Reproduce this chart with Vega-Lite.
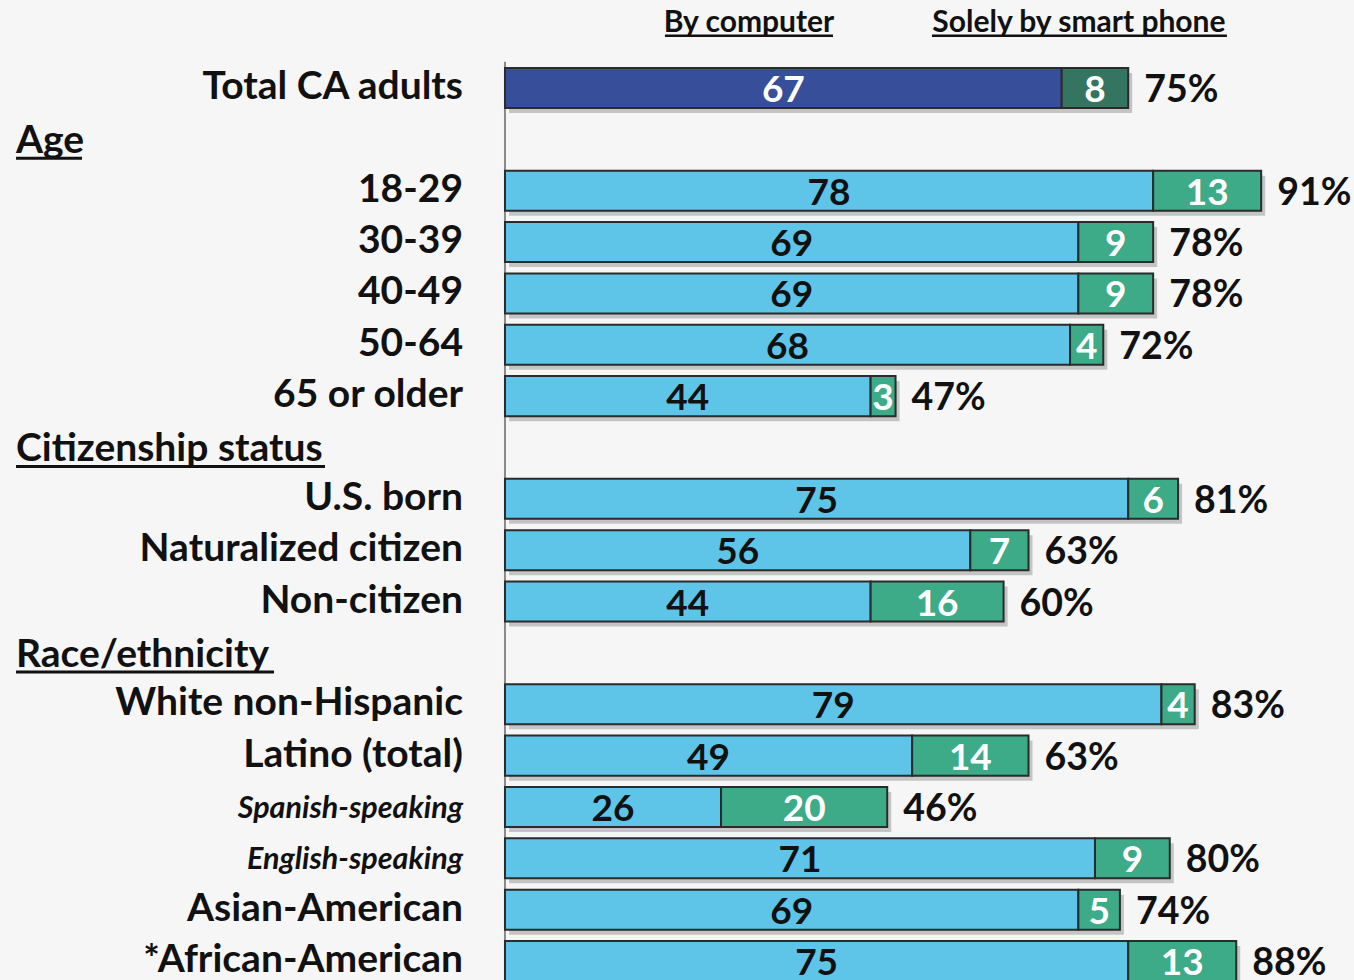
{
  "$schema": "https://vega.github.io/schema/vega-lite/v6.json",
  "width": 1354,
  "height": 980,
  "autosize": {"type": "none"},
  "padding": 0,
  "background": "#f6f6f6",
  "config": {"view": {"stroke": null}, "font": "Lato"},
  "datasets": {
    "rows": [
      {"row": "Total CA adults", "group": "total", "level": "main", "computer": 67, "phone": 8, "total": 75, "pct": "75%"},
      {"row": "18-29", "group": "age", "level": "main", "computer": 78, "phone": 13, "total": 91, "pct": "91%"},
      {"row": "30-39", "group": "age", "level": "main", "computer": 69, "phone": 9, "total": 78, "pct": "78%"},
      {"row": "40-49", "group": "age", "level": "main", "computer": 69, "phone": 9, "total": 78, "pct": "78%"},
      {"row": "50-64", "group": "age", "level": "main", "computer": 68, "phone": 4, "total": 72, "pct": "72%"},
      {"row": "65 or older", "group": "age", "level": "main", "computer": 44, "phone": 3, "total": 47, "pct": "47%"},
      {"row": "U.S. born", "group": "citizenship", "level": "main", "computer": 75, "phone": 6, "total": 81, "pct": "81%"},
      {"row": "Naturalized citizen", "group": "citizenship", "level": "main", "computer": 56, "phone": 7, "total": 63, "pct": "63%"},
      {"row": "Non-citizen", "group": "citizenship", "level": "main", "computer": 44, "phone": 16, "total": 60, "pct": "60%"},
      {"row": "White non-Hispanic", "group": "race", "level": "main", "computer": 79, "phone": 4, "total": 83, "pct": "83%"},
      {"row": "Latino (total)", "group": "race", "level": "main", "computer": 49, "phone": 14, "total": 63, "pct": "63%"},
      {"row": "Spanish-speaking", "group": "race", "level": "sub", "computer": 26, "phone": 20, "total": 46, "pct": "46%"},
      {"row": "English-speaking", "group": "race", "level": "sub", "computer": 71, "phone": 9, "total": 80, "pct": "80%"},
      {"row": "Asian-American", "group": "race", "level": "main", "computer": 69, "phone": 5, "total": 74, "pct": "74%"},
      {"row": "*African-American", "group": "race", "level": "main", "computer": 75, "phone": 13, "total": 88, "pct": "88%"}
    ],
    "headers": [
      {"row": "Age"},
      {"row": "Citizenship status"},
      {"row": "Race/ethnicity"}
    ],
    "one": [{"k": 1}]
  },
  "data": {"name": "rows"},
  "encoding": {
    "y": {
      "field": "row",
      "type": "nominal",
      "axis": null,
      "scale": {
        "type": "band",
        "domain": ["_cols", "Total CA adults", "Age", "18-29", "30-39", "40-49", "50-64", "65 or older", "Citizenship status", "U.S. born", "Naturalized citizen", "Non-citizen", "Race/ethnicity", "White non-Hispanic", "Latino (total)", "Spanish-speaking", "English-speaking", "Asian-American", "*African-American"],
        "range": [10.95, 986.7],
        "paddingInner": 0.22,
        "paddingOuter": 0.11
      }
    }
  },
  "layer": [
    {
      "mark": {"type": "bar", "color": "#000000", "opacity": 0.2, "xOffset": 4, "yOffset": 5},
      "encoding": {
        "x": {"field": "total", "type": "quantitative", "axis": null, "scale": {"domain": [-60.77, 102.17], "nice": false, "zero": false}}
      }
    },
    {
      "data": {"name": "one"},
      "mark": {"type": "rule", "color": "#8a8a8a", "strokeWidth": 2, "yOffset": 25, "y2Offset": 25},
      "encoding": {
        "x": {"datum": 0, "type": "quantitative"},
        "y": {"datum": "_cols"},
        "y2": {"datum": "*African-American"}
      }
    },
    {
      "transform": [{"fold": ["computer", "phone"], "as": ["segment", "value"]}],
      "mark": {"type": "bar", "stroke": "#2b2b2b", "strokeWidth": 2},
      "encoding": {
        "x": {"field": "value", "type": "quantitative", "stack": "zero"},
        "order": {"field": "segment"},
        "color": {
          "field": "segment",
          "type": "nominal",
          "legend": null,
          "scale": {"domain": ["computer", "phone"], "range": ["#5EC4E8", "#3DAA88"]},
          "condition": [
            {"test": "datum.group === 'total' && datum.segment === 'computer'", "value": "#374E9A"},
            {"test": "datum.group === 'total'", "value": "#357460"}
          ]
        }
      }
    },
    {
      "transform": [{"fold": ["computer", "phone"], "as": ["segment", "value"]}],
      "mark": {"type": "text", "fontSize": 37, "fontWeight": "bold", "baseline": "alphabetic", "dy": 14, "align": "center"},
      "encoding": {
        "x": {"field": "value", "type": "quantitative", "stack": "zero", "bandPosition": 0.5},
        "detail": {"field": "segment"},
        "order": {"field": "segment"},
        "text": {"field": "value", "type": "quantitative"},
        "color": {
          "condition": {"test": "datum.group !== 'total' && datum.segment === 'computer'", "value": "#111111"},
          "value": "#ffffff"
        }
      }
    },
    {
      "mark": {"type": "text", "fontSize": 37.5, "fontWeight": "bold", "baseline": "alphabetic", "dy": 14, "align": "left", "dx": 16, "color": "#111111"},
      "encoding": {
        "x": {"field": "total", "type": "quantitative"},
        "text": {"field": "pct"}
      }
    },
    {
      "transform": [{"filter": "datum.level === 'main'"}],
      "mark": {"type": "text", "fontSize": 39, "fontWeight": "bold", "baseline": "alphabetic", "dy": 11, "align": "right", "color": "#111111"},
      "encoding": {
        "x": {"datum": -5.05, "type": "quantitative"},
        "text": {"field": "row"}
      }
    },
    {
      "transform": [{"filter": "datum.level === 'sub'"}],
      "mark": {"type": "text", "fontSize": 30.5, "fontWeight": "bold", "fontStyle": "italic", "baseline": "alphabetic", "dy": 11, "align": "right", "color": "#111111"},
      "encoding": {
        "x": {"datum": -5.05, "type": "quantitative"},
        "text": {"field": "row"}
      }
    },
    {
      "data": {"name": "headers"},
      "mark": {"type": "text", "fontSize": 39, "fontWeight": "bold", "baseline": "alphabetic", "dy": 14, "align": "left", "color": "#111111"},
      "encoding": {
        "x": {"datum": -58.84, "type": "quantitative"},
        "text": {"field": "row"}
      }
    },
    {
      "data": {"name": "one"},
      "mark": {"type": "rule", "color": "#111111", "strokeWidth": 3, "yOffset": 19},
      "encoding": {"x": {"datum": -58.84, "type": "quantitative"}, "x2": {"datum": -50.9}, "y": {"datum": "Age"}}
    },
    {
      "data": {"name": "one"},
      "mark": {"type": "rule", "color": "#111111", "strokeWidth": 3, "yOffset": 19},
      "encoding": {"x": {"datum": -58.84, "type": "quantitative"}, "x2": {"datum": -21.66}, "y": {"datum": "Citizenship status"}}
    },
    {
      "data": {"name": "one"},
      "mark": {"type": "rule", "color": "#111111", "strokeWidth": 3, "yOffset": 19},
      "encoding": {"x": {"datum": -58.84, "type": "quantitative"}, "x2": {"datum": -27.8}, "y": {"datum": "Race/ethnicity"}}
    },
    {
      "data": {"name": "one"},
      "mark": {"type": "text", "fontSize": 30, "fontWeight": "bold", "baseline": "alphabetic", "dy": -5, "align": "center", "color": "#111111", "text": "By computer"},
      "encoding": {"x": {"datum": 29.36, "type": "quantitative"}, "y": {"datum": "_cols"}}
    },
    {
      "data": {"name": "one"},
      "mark": {"type": "text", "fontSize": 30, "fontWeight": "bold", "baseline": "alphabetic", "dy": -5, "align": "center", "color": "#111111", "text": "Solely by smart phone"},
      "encoding": {"x": {"datum": 69.07, "type": "quantitative"}, "y": {"datum": "_cols"}}
    },
    {
      "data": {"name": "one"},
      "mark": {"type": "rule", "color": "#111111", "strokeWidth": 2.5, "yOffset": -1},
      "encoding": {"x": {"datum": 19.25, "type": "quantitative"}, "x2": {"datum": 39.47}, "y": {"datum": "_cols"}}
    },
    {
      "data": {"name": "one"},
      "mark": {"type": "rule", "color": "#111111", "strokeWidth": 2.5, "yOffset": -1},
      "encoding": {"x": {"datum": 51.38, "type": "quantitative"}, "x2": {"datum": 86.88}, "y": {"datum": "_cols"}}
    }
  ]
}
